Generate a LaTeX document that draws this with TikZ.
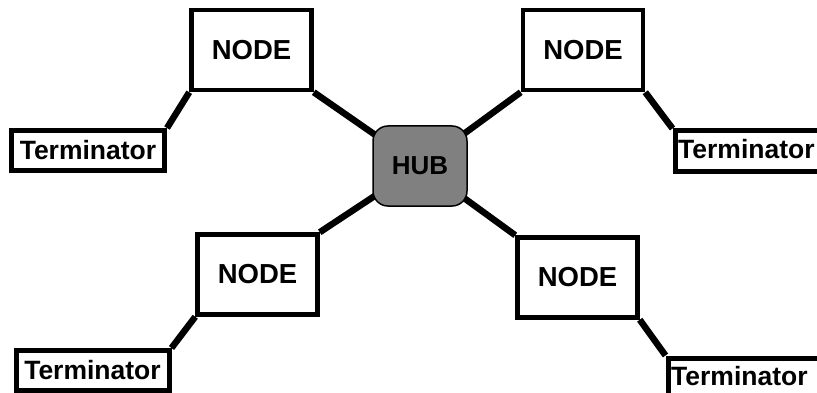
\documentclass[tikz,border=0pt]{standalone}
\usepackage{fontspec}
\setmainfont{Liberation Sans}
\usetikzlibrary{backgrounds}
\begin{document}
\begin{tikzpicture}[x=1pt,y=-1pt,
  nodebox/.style={draw=black,line width=4.5pt,minimum width=120pt,minimum height=80pt,inner sep=0pt,
    font=\fontsize{27.5}{32}\selectfont\bfseries},
  termbox/.style={draw=black,line width=5pt,minimum width=153pt,minimum height=40pt,inner sep=0pt,
    font=\fontsize{26.5}{32}\selectfont\bfseries},
  termtext/.style={font=\fontsize{26.5}{32}\selectfont\bfseries,inner sep=0pt,anchor=west},
  hubbox/.style={draw=black,line width=1.5pt,fill=gray,rounded corners=15pt,minimum width=94pt,
    minimum height=80pt,inner sep=0pt,font=\fontsize{26}{30}\selectfont\bfseries},
  link/.style={line width=6.5pt,draw=black}]
\useasboundingbox (0,0) rectangle (817,393);
\clip (0,0) rectangle (817,393);
\node[hubbox] (hub) at (420,166) {HUB};
\node[nodebox] (ntl) at (251.5,50) {NODE};
\node[nodebox] (ntr) at (583,50) {NODE};
\node[nodebox] (nbl) at (257.5,274.5) {NODE};
\node[nodebox] (nbr) at (577.5,277.5) {NODE};
\node[termbox] (ttl) at (88,150.5) {Terminator};
\node[termbox] (tbl) at (92.5,370.5) {Terminator};
\node[termbox,minimum width=180pt,minimum height=41pt,anchor=north west] (ttr) at (672.5,128.5) {};
\node[termtext] (ttrtext) at (678,149) {Terminator};
\node[termbox,minimum width=180pt,minimum height=41pt,anchor=north west] (tbr) at (665.5,355.5) {};
\node[termtext] (tbrtext) at (671,376) {Terminator};
\begin{pgfonlayer}{background}
\draw[link] (ntl.south east) -- (hub.center);
\draw[link] (ntr.south west) -- (hub.center);
\draw[link] (nbl.north east) -- (hub.center);
\draw[link] (nbr.north west) -- (hub.center);
\draw[link] (ntl.south west) -- (ttl.north east);
\draw[link] (nbl.south west) -- (tbl.north east);
\draw[link] (ntr.south east) -- (ttr.north west);
\draw[link] (nbr.south east) -- (tbr.north west);
\end{pgfonlayer}
\end{tikzpicture}
\end{document}
